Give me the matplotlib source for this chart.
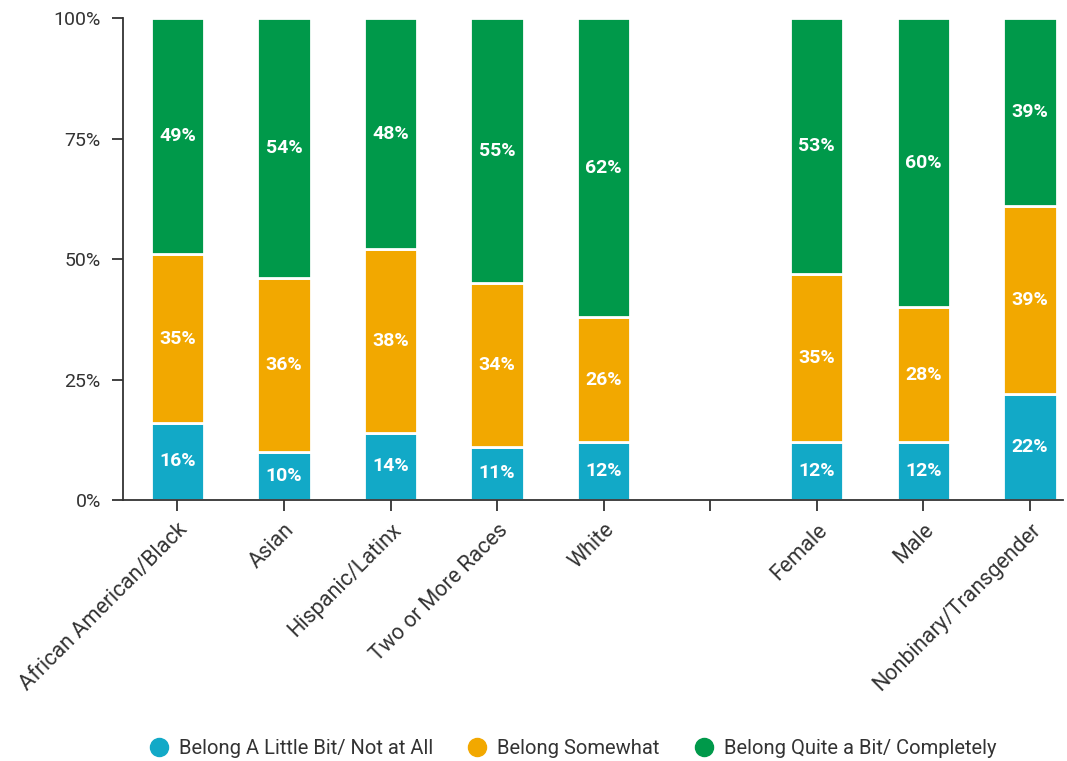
import matplotlib
matplotlib.use("Agg")
import matplotlib.pyplot as plt
import numpy as np
from matplotlib.lines import Line2D

# data
categories = ["African American/Black", "Asian", "Hispanic/Latinx", "Two or More Races",
              "White", "", "Female", "Male", "Nonbinary/Transgender"]
little = [16, 10, 14, 11, 12, 0, 12, 12, 22]
somewhat = [35, 36, 38, 34, 26, 0, 35, 28, 39]
quite = [49, 54, 48, 55, 62, 0, 53, 60, 39]
series_names = ["Belong A Little Bit/ Not at All", "Belong Somewhat",
                "Belong Quite a Bit/ Completely"]
colors = ["#12A9C7", "#F2A800", "#00994A"]

plt.rcParams["font.family"] = ["Roboto", "DejaVu Sans"]

fig = plt.figure(figsize=(10.67, 7.61), dpi=100)
ax = fig.add_axes([0.1153, 0.343, 0.881, 0.633])

x = np.arange(len(categories))
bottom = np.zeros(len(categories))
for vals, col in zip([little, somewhat, quite], colors):
    vals = np.array(vals, dtype=float)
    mask = vals > 0
    ax.bar(x[mask], vals[mask], bottom=bottom[mask], width=0.5, color=col,
           edgecolor="white", linewidth=2)
    for xi, v, b in zip(x[mask], vals[mask], bottom[mask]):
        ax.text(xi, b + v / 2, f"{int(v)}%", ha="center", va="center",
                color="white", fontsize=14, fontweight="bold")
    bottom += vals

ax.set_xlim(-0.51, 8.31)
ax.set_ylim(0, 100)
ax.set_yticks([0, 25, 50, 75, 100])
ax.set_yticklabels(["0%", "25%", "50%", "75%", "100%"])
ax.set_xticks(x)
ax.set_xticklabels(categories, rotation=45, ha="right", rotation_mode="anchor")

for s in ["top", "right"]:
    ax.spines[s].set_visible(False)
for s in ["left", "bottom"]:
    ax.spines[s].set_color("#333333")
    ax.spines[s].set_linewidth(1.3)
ax.tick_params(axis="both", length=8, width=1.3, color="#333333",
               labelcolor="#333333", labelsize=14, pad=8)
ax.tick_params(axis="x", labelsize=15.5, pad=6)

handles = [Line2D([0], [0], marker="o", linestyle="", markersize=13,
                  markerfacecolor=c, markeredgecolor=c) for c in colors]
fig.legend(handles, series_names, loc="center", bbox_to_anchor=(0.532, 0.017),
           ncol=3, frameon=False, fontsize=14.5, handletextpad=0.0,
           columnspacing=1.2, labelcolor="#333333")

fig.savefig("out.png", dpi=100)
